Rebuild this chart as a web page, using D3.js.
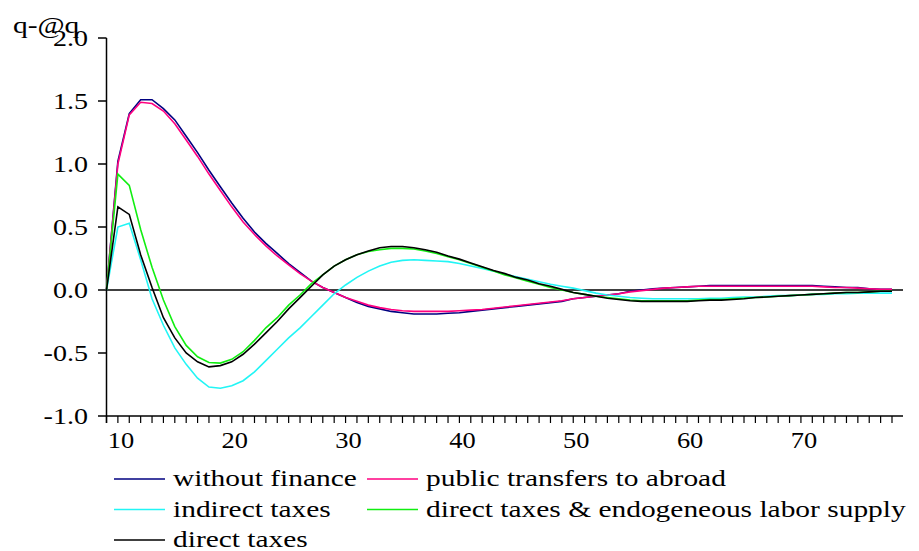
<!DOCTYPE html>
<html>
<head>
<script src="https://d3js.org/d3.v7.min.js" charset="utf-8"></script>
<style>
  body { margin: 0; background: #fff; }
  text { font-family: "Liberation Serif", "Times New Roman", serif; fill: #000; }
</style>
</head>
<body>
<div id="chart"></div>
<script type="text/javascript">
  var w = 919, h = 551;

  // periods 9..78
  var periods = d3.range(9, 79);

  var withoutFinance = [0, 1.02, 1.40, 1.51, 1.51, 1.44, 1.35, 1.22, 1.09, 0.95,
    0.82, 0.69, 0.57, 0.46, 0.37, 0.29, 0.21, 0.14, 0.07, 0.02,
    -0.02, -0.06, -0.10, -0.13, -0.15, -0.17, -0.18, -0.19, -0.19, -0.19,
    -0.185, -0.18, -0.17, -0.16, -0.15, -0.14, -0.13, -0.12, -0.11, -0.10,
    -0.09, -0.07, -0.06, -0.05, -0.04, -0.03, -0.01, 0.00, 0.01, 0.015,
    0.02, 0.025, 0.03, 0.035, 0.035, 0.035, 0.035, 0.035, 0.035, 0.035,
    0.035, 0.035, 0.035, 0.03, 0.025, 0.02, 0.02, 0.01, 0.005, 0.005];

  var transfersAbroad = [0, 1.00, 1.39, 1.49, 1.48, 1.42, 1.32, 1.19, 1.06, 0.92,
    0.79, 0.66, 0.54, 0.44, 0.35, 0.27, 0.20, 0.13, 0.07, 0.02,
    -0.02, -0.06, -0.09, -0.12, -0.14, -0.155, -0.165, -0.17, -0.17, -0.17,
    -0.17, -0.165, -0.16, -0.155, -0.145, -0.135, -0.125, -0.115, -0.105, -0.095,
    -0.085, -0.07, -0.06, -0.05, -0.04, -0.03, -0.015, -0.005, 0.005, 0.015,
    0.02, 0.025, 0.03, 0.03, 0.03, 0.03, 0.03, 0.03, 0.03, 0.03,
    0.03, 0.03, 0.03, 0.025, 0.02, 0.02, 0.015, 0.01, 0.005, 0.005];

  var indirectTaxes = [0, 0.50, 0.53, 0.24, -0.07, -0.28, -0.46, -0.59, -0.70, -0.77,
    -0.78, -0.76, -0.72, -0.65, -0.56, -0.47, -0.38, -0.30, -0.21, -0.12,
    -0.03, 0.04, 0.10, 0.15, 0.19, 0.22, 0.235, 0.24, 0.235, 0.23,
    0.225, 0.21, 0.19, 0.17, 0.15, 0.125, 0.105, 0.085, 0.065, 0.045,
    0.03, 0.015, -0.005, -0.025, -0.04, -0.05, -0.06, -0.065, -0.07, -0.07,
    -0.07, -0.07, -0.07, -0.065, -0.065, -0.06, -0.055, -0.055, -0.05, -0.045,
    -0.045, -0.04, -0.035, -0.035, -0.03, -0.03, -0.025, -0.025, -0.025, -0.025];

  var directLabor = [0, 0.92, 0.83, 0.48, 0.18, -0.08, -0.29, -0.44, -0.53, -0.575,
    -0.58, -0.55, -0.49, -0.40, -0.30, -0.22, -0.12, -0.04, 0.05, 0.12,
    0.19, 0.24, 0.28, 0.305, 0.32, 0.33, 0.33, 0.325, 0.31, 0.29,
    0.265, 0.24, 0.21, 0.18, 0.15, 0.12, 0.095, 0.07, 0.045, 0.02,
    0.0, -0.02, -0.035, -0.05, -0.06, -0.07, -0.08, -0.085, -0.085, -0.085,
    -0.085, -0.085, -0.08, -0.075, -0.075, -0.07, -0.065, -0.06, -0.055, -0.05,
    -0.045, -0.04, -0.035, -0.03, -0.025, -0.02, -0.02, -0.015, -0.01, -0.01];

  var directTaxes = [0, 0.66, 0.60, 0.28, 0.02, -0.22, -0.38, -0.50, -0.57, -0.61,
    -0.60, -0.57, -0.51, -0.43, -0.34, -0.25, -0.15, -0.06, 0.03, 0.12,
    0.19, 0.24, 0.28, 0.31, 0.335, 0.345, 0.345, 0.335, 0.32, 0.30,
    0.27, 0.245, 0.215, 0.185, 0.155, 0.13, 0.10, 0.08, 0.05, 0.03,
    0.005, -0.02, -0.035, -0.05, -0.065, -0.075, -0.085, -0.09, -0.09, -0.09,
    -0.09, -0.09, -0.085, -0.08, -0.08, -0.075, -0.07, -0.06, -0.055, -0.05,
    -0.045, -0.04, -0.035, -0.03, -0.025, -0.02, -0.02, -0.015, -0.01, -0.01];

  var yTicks = [2.0, 1.5, 1.0, 0.5, 0.0, -0.5, -1.0];
  var xTickLabels = [10, 20, 30, 40, 50, 60, 70];

  var series = [
    { name: "without finance", color: "#000080", values: withoutFinance },
    { name: "public transfers to abroad", color: "#ff0080", values: transfersAbroad },
    { name: "indirect taxes", color: "#22f5f5", values: indirectTaxes },
    { name: "direct taxes & endogeneous labor supply", color: "#11ee11", values: directLabor },
    { name: "direct taxes", color: "#000000", values: directTaxes }
  ];

  var x = d3.scaleLinear().domain([9, 78]).range([106.5, 892]);
  var y = d3.scaleLinear().domain([-1, 2]).range([416, 38]);

  var svg = d3.select("#chart").append("svg")
    .attr("width", w).attr("height", h);

  // axes
  svg.append("line").attr("x1", 106.5).attr("x2", 106.5)
    .attr("y1", y(2)).attr("y2", 423)
    .attr("stroke", "#000").attr("stroke-width", 1.5);
  svg.append("line").attr("x1", 106).attr("x2", 903)
    .attr("y1", y(-1)).attr("y2", y(-1))
    .attr("stroke", "#000").attr("stroke-width", 1.5);
  svg.append("line").attr("x1", 106).attr("x2", 903)
    .attr("y1", y(0)).attr("y2", y(0))
    .attr("stroke", "#000").attr("stroke-width", 1.5);

  svg.selectAll("line.ytick").data(yTicks).enter().append("line")
    .attr("class", "ytick")
    .attr("x1", 98).attr("x2", 106.5)
    .attr("y1", function(d) { return y(d); }).attr("y2", function(d) { return y(d); })
    .attr("stroke", "#000").attr("stroke-width", 1.5);

  svg.selectAll("text.ylab").data(yTicks).enter().append("text")
    .attr("class", "ylab")
    .attr("text-anchor", "end")
    .attr("font-size", 23)
    .attr("transform", function(d) { return "translate(88," + (y(d) + 8) + ") scale(1.22,1)"; })
    .text(function(d) { return d.toFixed(1); });

  svg.selectAll("line.xtick").data(periods).enter().append("line")
    .attr("class", "xtick")
    .attr("x1", function(d) { return x(d); }).attr("x2", function(d) { return x(d); })
    .attr("y1", y(-1)).attr("y2", y(-1) + 7)
    .attr("stroke", "#000").attr("stroke-width", 1.2);

  svg.selectAll("text.xlab").data(xTickLabels).enter().append("text")
    .attr("class", "xlab")
    .attr("text-anchor", "middle")
    .attr("font-size", 23)
    .attr("transform", function(d) { return "translate(" + (x(d) + 3) + ",448) scale(1.15,1)"; })
    .text(function(d) { return d; });

  svg.append("text")
    .attr("font-size", 23)
    .attr("transform", "translate(13,33) scale(1.28,1)")
    .text("q-@q");

  // lines
  var line = d3.line()
    .x(function(d, i) { return x(periods[i]); })
    .y(function(d) { return y(d); });

  svg.selectAll("path.series").data(series).enter().append("path")
    .attr("class", "series")
    .attr("d", function(d) { return line(d.values); })
    .attr("fill", "none")
    .attr("stroke", function(d) { return d.color; })
    .attr("stroke-width", 1.6);

  // legend
  var legendPos = [
    { s: 0, x: 114, y: 479 },
    { s: 1, x: 367, y: 479 },
    { s: 2, x: 114, y: 509.5 },
    { s: 3, x: 367, y: 509.5 },
    { s: 4, x: 114, y: 540 }
  ];

  var lg = svg.selectAll("g.legend").data(legendPos).enter().append("g")
    .attr("class", "legend")
    .attr("transform", function(d) { return "translate(" + d.x + "," + d.y + ")"; });
  lg.append("line").attr("x1", 0).attr("x2", 51).attr("y1", 0).attr("y2", 0)
    .attr("stroke", function(d) { return series[d.s].color; })
    .attr("stroke-width", 1.6);
  lg.append("text")
    .attr("font-size", 23)
    .attr("transform", "translate(59,7) scale(1.28,1)")
    .text(function(d) { return series[d.s].name; });
</script>
</body>
</html>
